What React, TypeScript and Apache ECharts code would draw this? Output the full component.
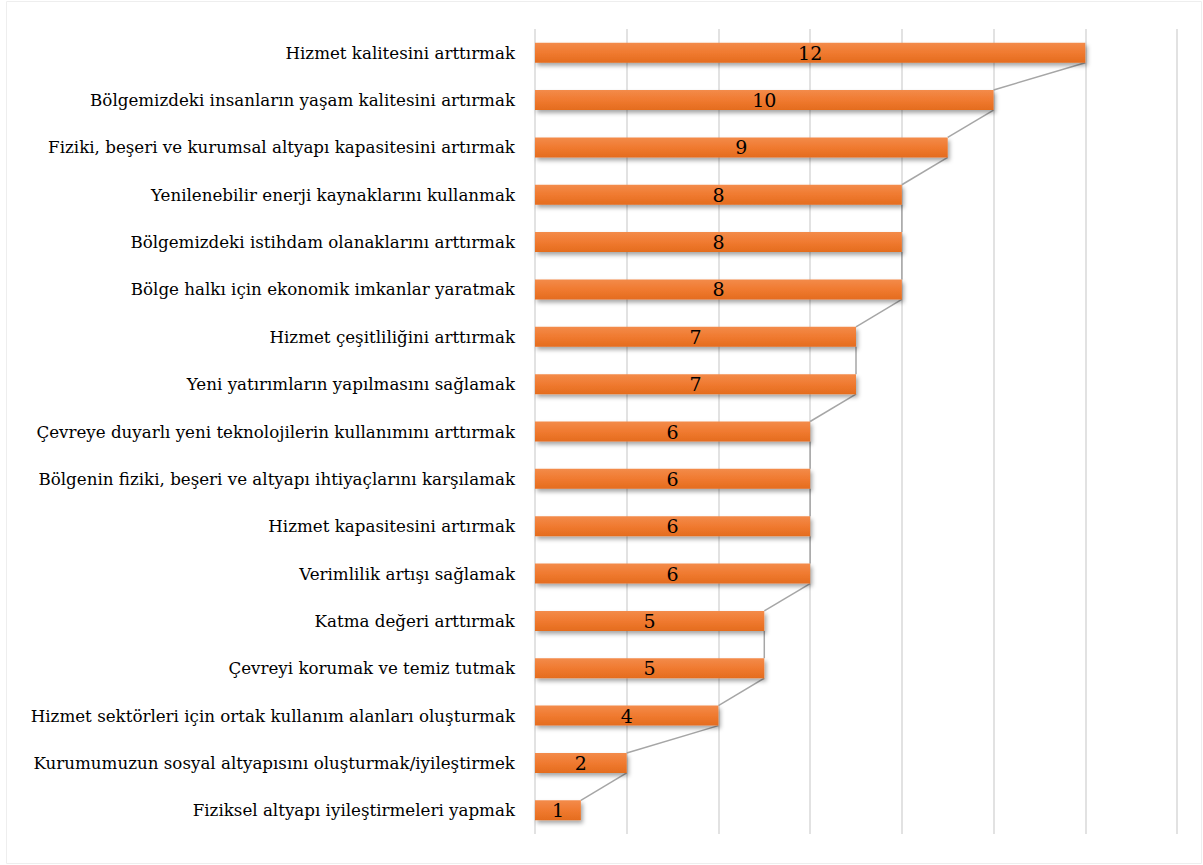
import React, { useEffect, useRef } from "react";
import * as echarts from "echarts";

const categories = [
  "Hizmet kalitesini arttırmak",
  "Bölgemizdeki insanların yaşam kalitesini artırmak",
  "Fiziki, beşeri ve kurumsal altyapı kapasitesini artırmak",
  "Yenilenebilir enerji kaynaklarını kullanmak",
  "Bölgemizdeki istihdam olanaklarını arttırmak",
  "Bölge halkı için ekonomik imkanlar yaratmak",
  "Hizmet çeşitliliğini arttırmak",
  "Yeni yatırımların yapılmasını sağlamak",
  "Çevreye duyarlı yeni teknolojilerin kullanımını arttırmak",
  "Bölgenin fiziki, beşeri ve altyapı ihtiyaçlarını karşılamak",
  "Hizmet kapasitesini artırmak",
  "Verimlilik artışı sağlamak",
  "Katma değeri arttırmak",
  "Çevreyi korumak ve temiz tutmak",
  "Hizmet sektörleri için ortak kullanım alanları oluşturmak",
  "Kurumumuzun sosyal altyapısını oluşturmak/iyileştirmek",
  "Fiziksel altyapı iyileştirmeleri yapmak",
];

const values = [12, 10, 9, 8, 8, 8, 7, 7, 6, 6, 6, 6, 5, 5, 4, 2, 1];

const SERIF = "DejaVu Serif";

export default function App() {
  const ref = useRef<HTMLDivElement>(null);
  useEffect(() => {
    if (!ref.current) return;
    const chart = echarts.init(ref.current, null, { renderer: "svg" });
    const barWidth = 20;
    const linkData = values.slice(0, -1).map((v, i) => [v, i, values[i + 1], i + 1]);
    chart.setOption({
      animation: false,
      backgroundColor: "#ffffff",
      grid: { left: 535, right: 26, top: 29, bottom: 31 },
      graphic: [
        {
          type: "rect",
          shape: { x: 6.5, y: 1.5, width: 1195, height: 862 },
          style: { fill: "none", stroke: "#eeeeee", lineWidth: 1 },
          silent: true,
        },
      ],
      xAxis: {
        type: "value",
        min: 0,
        max: 14,
        interval: 2,
        axisLabel: { show: false },
        axisLine: { show: false },
        axisTick: { show: false },
        splitLine: { show: true, lineStyle: { color: "#d9d9d9", width: 1.5 } },
      },
      yAxis: {
        type: "category",
        data: categories,
        inverse: true,
        axisLine: { show: false },
        axisTick: { show: false },
        axisLabel: {
          color: "#000000",
          fontFamily: SERIF,
          fontSize: 16.7,
          margin: 20,
        },
      },
      series: [
        {
          type: "bar",
          data: values,
          barWidth: barWidth,
          z: 3,
          itemStyle: {
            color: new echarts.graphic.LinearGradient(0, 0, 0, 1, [
              { offset: 0, color: "#F38B4A" },
              { offset: 0.5, color: "#F07A30" },
              { offset: 1, color: "#E46C1E" },
            ]),
            shadowBlur: 4,
            shadowColor: "rgba(0,0,0,0.35)",
            shadowOffsetX: 2,
            shadowOffsetY: 3,
          },
          label: {
            show: true,
            position: "inside",
            color: "#000000",
            fontFamily: SERIF,
            fontSize: 19,
          },
        },
        {
          type: "custom",
          data: linkData,
          z: 2,
          silent: true,
          encode: { x: [0, 2], y: [1, 3] },
          renderItem: (params: any, api: any) => {
            const p1 = api.coord([api.value(0), api.value(1)]);
            const p2 = api.coord([api.value(2), api.value(3)]);
            return {
              type: "line",
              shape: {
                x1: p1[0],
                y1: p1[1] + barWidth / 2,
                x2: p2[0],
                y2: p2[1] - barWidth / 2,
              },
              style: { stroke: "#a6a6a6", lineWidth: 1.5 },
            };
          },
        },
      ],
    });
    return () => chart.dispose();
  }, []);
  return (
    <div
      ref={ref}
      style={{ position: "fixed", left: 0, top: 0, width: 1203, height: 865 }}
    />
  );
}
